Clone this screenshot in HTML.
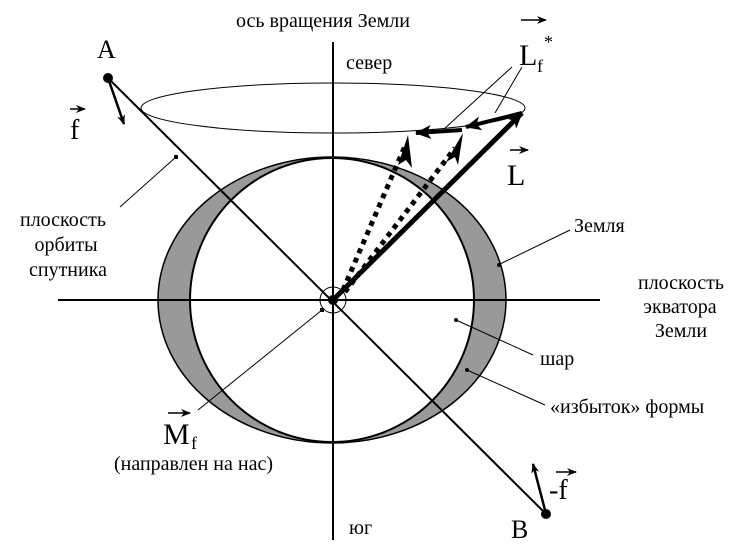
<!DOCTYPE html>
<html><head><meta charset="utf-8"><style>
html,body{margin:0;padding:0;background:#fff}
svg{display:block}
text{font-family:"Liberation Serif",serif;fill:#000}
</style></head><body>
<svg width="743" height="553" viewBox="0 0 743 553" xmlns="http://www.w3.org/2000/svg">
<defs>
<marker id="ah" markerWidth="10" markerHeight="8" refX="9" refY="4" orient="auto" markerUnits="userSpaceOnUse"><path d="M0,0 L10,4 L0,8 L3,4 z" fill="#000"/></marker>
<marker id="ahb" markerWidth="16" markerHeight="14" refX="15" refY="7" orient="auto" markerUnits="userSpaceOnUse"><path d="M0,0 L16,7 L0,14 L4,7 z" fill="#000"/></marker>
</defs>
<ellipse cx="332" cy="300" rx="174" ry="143" fill="#999" stroke="#000" stroke-width="1.5"/>
<circle cx="332" cy="300" r="142" fill="#fff" stroke="#000" stroke-width="2"/>
<line x1="333" y1="42" x2="333" y2="540" stroke="#000" stroke-width="2"/>
<line x1="58" y1="300" x2="600" y2="300" stroke="#000" stroke-width="2"/>
<line x1="108" y1="78" x2="547" y2="515" stroke="#000" stroke-width="2"/>
<ellipse cx="333" cy="108" rx="192" ry="25" fill="none" stroke="#000" stroke-width="1"/>
<circle cx="333" cy="300" r="13" fill="none" stroke="#000" stroke-width="1"/>
<circle cx="333" cy="300" r="5" fill="#000"/>
<line x1="333" y1="300" x2="522" y2="113" stroke="#000" stroke-width="5" marker-end="url(#ahb)"/>
<line x1="343" y1="290" x2="405" y2="146" stroke="#000" stroke-width="5" stroke-dasharray="5,5"/>
<path d="M398,165 L408,135 L412,168 L406,160 z" fill="#000"/>
<line x1="345" y1="292" x2="455" y2="148" stroke="#000" stroke-width="5" stroke-dasharray="5,5"/>
<path d="M446,162 L463,133 L458,165 L455,157 z" fill="#000"/>
<line x1="522" y1="113" x2="466" y2="127" stroke="#000" stroke-width="4" marker-end="url(#ahb)"/>
<line x1="462" y1="130" x2="416" y2="133" stroke="#000" stroke-width="4" marker-end="url(#ahb)"/>
<line x1="512" y1="67" x2="444" y2="129" stroke="#000" stroke-width="1"/>
<line x1="522" y1="67" x2="495" y2="113" stroke="#000" stroke-width="1"/>
<circle cx="108" cy="78" r="5" fill="#000"/>
<line x1="108" y1="78" x2="124" y2="124" stroke="#000" stroke-width="2.5" marker-end="url(#ah)"/>
<circle cx="546" cy="514" r="5" fill="#000"/>
<line x1="546" y1="514" x2="533" y2="464" stroke="#000" stroke-width="2.5" marker-end="url(#ah)"/>
<line x1="120" y1="207" x2="176" y2="157" stroke="#000" stroke-width="1"/><rect x="174" y="155" width="4" height="4"/>
<line x1="498" y1="265" x2="570" y2="230" stroke="#000" stroke-width="1"/><circle cx="499" cy="265" r="2"/>
<line x1="456" y1="320" x2="533" y2="355" stroke="#000" stroke-width="1"/><circle cx="456" cy="320" r="2"/>
<line x1="467" y1="370" x2="545" y2="405" stroke="#000" stroke-width="1"/><circle cx="467" cy="370" r="2"/>
<line x1="198" y1="410" x2="322" y2="310" stroke="#000" stroke-width="1"/><rect x="320" y="308" width="4" height="4"/>
<text x="236" y="27" font-size="20">ось вращения Земли</text>
<text x="346" y="69" font-size="20">север</text>
<text x="97" y="58" font-size="26">A</text>
<text x="70" y="139" font-size="28">f</text>
<line x1="70" y1="109" x2="85" y2="109" stroke="#000" stroke-width="1.5" marker-end="url(#ah)"/>
<text x="519" y="65" font-size="30">L</text><text x="537" y="72" font-size="18">f</text><text x="544" y="48" font-size="18">*</text>
<line x1="521" y1="20" x2="546" y2="20" stroke="#000" stroke-width="1.5" marker-end="url(#ah)"/>
<text x="507" y="185" font-size="30">L</text>
<line x1="510" y1="150" x2="528" y2="150" stroke="#000" stroke-width="1.5" marker-end="url(#ah)"/>
<g font-size="20" text-anchor="middle">
<text x="63" y="226">плоскость</text>
<text x="66" y="251">орбиты</text>
<text x="68" y="276">спутника</text>
<text x="681" y="289">плоскость</text>
<text x="680" y="313">экватора</text>
<text x="681" y="337">Земли</text>
</g>
<text x="574" y="232" font-size="20">Земля</text>
<text x="540" y="365" font-size="20">шар</text>
<text x="550" y="413" font-size="20">«избыток» формы</text>
<text x="163" y="444" font-size="30">M</text><text x="191" y="449" font-size="18">f</text>
<line x1="168" y1="413" x2="190" y2="413" stroke="#000" stroke-width="1.5" marker-end="url(#ah)"/>
<text x="114" y="470" font-size="20">(направлен на нас)</text>
<text x="349" y="534" font-size="20">юг</text>
<text x="511" y="538" font-size="26">B</text>
<text x="549" y="499" font-size="28">-f</text>
<line x1="556" y1="472" x2="576" y2="472" stroke="#000" stroke-width="1.5" marker-end="url(#ah)"/>
</svg>
</body></html>
